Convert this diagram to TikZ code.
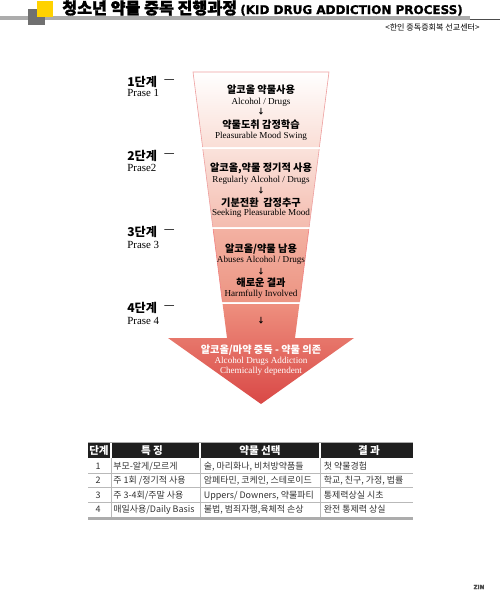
\documentclass[tikz,border=0pt]{standalone}
\usepackage{fontspec}
\setmainfont{Liberation Serif}
\newfontfamily\krfont{Noto Sans CJK KR}
\newfontfamily\krheavy{Noto Sans CJK KR}[BoldFeatures={FakeBold=1.6}]
\newfontfamily\headfont{DejaVu Sans}[BoldFeatures={FakeBold=1.2}]
\definecolor{TitleYellow}{RGB}{255,210,0}
\definecolor{TitleGray}{RGB}{112,112,112}
\definecolor{BarGray}{RGB}{172,172,172}
\definecolor{EdgePink}{RGB}{238,160,160}
\definecolor{FunA}{RGB}{250,222,214}
\definecolor{FunB}{RGB}{250,226,219}
\definecolor{FunC}{RGB}{244,188,175}
\definecolor{FunD}{RGB}{243,177,162}
\definecolor{FunE}{RGB}{236,148,130}
\definecolor{FunF}{RGB}{238,143,126}
\definecolor{FunG}{RGB}{217,72,70}
\definecolor{TableText}{RGB}{50,50,50}
\definecolor{RuleGray}{RGB}{185,185,185}
\usetikzlibrary{positioning}

\begin{document}
\begin{tikzpicture}[x=0.02cm,y=-0.02cm,
  krbold/.style={font=\krfont\bfseries\fontsize{5.8}{6}\selectfont,inner sep=0pt,anchor=base},
  engtxt/.style={font=\fontsize{5.2}{6}\selectfont,inner sep=0pt,anchor=base},
  downmark/.style={font=\krfont\bfseries\fontsize{4.2}{5}\selectfont,inner sep=0pt},
  stagekr/.style={font=\krfont\bfseries\fontsize{6.9}{7}\selectfont,inner sep=0pt,anchor=base west},
  stageen/.style={font=\fontsize{6.2}{7}\selectfont,inner sep=0pt,anchor=base west},
  dashmark/.style={font=\krfont\fontsize{6.9}{7}\selectfont,inner sep=0pt},
  headcell/.style={font=\krfont\bfseries\fontsize{6}{6}\selectfont,text=white,inner sep=0pt,anchor=base},
  bodycell/.style={font=\krfont\fontsize{5.1}{6}\selectfont,text=TableText,inner sep=0pt,anchor=base west}]
\useasboundingbox (0,0) rectangle (500,596);

% title bar
\fill[BarGray] (0,16.3) rectangle (470,20);
\draw[black!70,line width=0.4pt] (470,19.5) -- (500,19.5);
\fill[TitleGray] (28,9) rectangle (45,25);
\fill[TitleYellow] (37,1) rectangle (53,17);
\node[font=\krheavy\bfseries\fontsize{9.2}{10}\selectfont,inner sep=0pt,anchor=base west] (title) at (62,14) {청소년 약물 중독 진행과정};
\node[font=\headfont\bfseries\fontsize{6.8}{7}\selectfont,inner sep=0pt,anchor=base west] (titleen) at (240,14) {(KID DRUG ADDICTION PROCESS)};
\node[font=\krfont\fontsize{4.6}{5}\selectfont,inner sep=0pt,anchor=base east] (source) at (480,30.5) {<한인 중독증회복 선교센터>};

% funnel sections
\shade[top color=white,bottom color=FunA] (193,72) -- (329,72) -- (319.4,147) -- (202.6,147) -- cycle;
\shade[top color=FunB,bottom color=FunC] (202.8,149) -- (319.2,149) -- (309.2,227) -- (212.8,227) -- cycle;
\shade[top color=FunD,bottom color=FunE] (213.1,229) -- (308.9,229) -- (299.6,302) -- (222.4,302) -- cycle;
\shade[top color=FunF,bottom color=FunG] (222.6,304) -- (299.4,304) -- (295,338) -- (354,338) -- (261,404) -- (168,338) -- (227,338) -- cycle;
% pink edges
\draw[EdgePink,line width=0.35pt] (202.6,147) -- (193,72) -- (329,72) -- (319.4,147);
\draw[EdgePink,line width=0.35pt] (202.8,149) -- (212.8,227) (319.2,149) -- (309.2,227);
\draw[EdgePink!80!red,line width=0.35pt] (213.1,229) -- (222.4,302) (308.9,229) -- (299.6,302);

% stage 1
\node[krbold] (s1a) at (261,93) {알코올 약물사용};
\node[engtxt] (s1b) at (261,104.5) {Alcohol / Drugs};
\node[downmark] (s1c) at (261,111.5) {↓};
\node[krbold] (s1d) at (261,128) {약물도취 감정학습};
\node[engtxt] (s1e) at (261,138) {Pleasurable Mood Swing};
% stage 2
\node[krbold] (s2a) at (261,171) {알코올,약물 정기적 사용};
\node[engtxt] (s2b) at (261,182) {Regularly Alcohol / Drugs};
\node[downmark] (s2c) at (261,191) {↓};
\node[krbold] (s2d) at (261,206) {기분전환~~감정추구};
\node[engtxt] (s2e) at (261,215) {Seeking Pleasurable Mood};
% stage 3
\node[krbold] (s3a) at (261,252) {알코올/약물 남용};
\node[engtxt] (s3b) at (261,262.5) {Abuses Alcohol / Drugs};
\node[downmark] (s3c) at (261,271.5) {↓};
\node[krbold] (s3d) at (261,286) {해로운 결과};
\node[engtxt] (s3e) at (261,296) {Harmfully Involved};
% stage 4
\node[downmark] (s4c) at (261,320.5) {↓};
\node[krbold,text=white] (s4a) at (261,353) {알코올/마약 중독 - 약물 의존};
\node[engtxt,text=white] (s4b) at (261,363.5) {Alcohol Drugs Addiction};
\node[engtxt,text=white] (s4e) at (261,373) {Chemically dependent};

% stage labels
\node[stagekr] (stage1) at (127,86) {1단계};
\node[dashmark,right=3.5pt of stage1] (dash1) {—};
\node[stageen] (prase1) at (127,96) {Prase 1};
\node[stagekr] (stage2) at (127,160.5) {2단계};
\node[dashmark,right=3.5pt of stage2] (dash2) {—};
\node[stageen] (prase2) at (127,171) {Prase2};
\node[stagekr] (stage3) at (127,236.5) {3단계};
\node[dashmark,right=3.5pt of stage3] (dash3) {—};
\node[stageen] (prase3) at (127,248) {Prase 3};
\node[stagekr] (stage4) at (127,312.5) {4단계};
\node[dashmark,right=3.5pt of stage4] (dash4) {—};
\node[stageen] (prase4) at (127,324) {Prase 4};

% table
\draw[BarGray,line width=0.8pt] (88,442.3) -- (413,442.3);
\fill[black!88] (88,443.3) rectangle (413,458.3);
\foreach \x in {111,200,320}
  \draw[white,line width=0.6pt] (\x,443.3) -- (\x,458.3);
\foreach \y in {473.3,487.8,502.3}
  \draw[RuleGray,line width=0.4pt] (88,\y) -- (413,\y);
\foreach \x in {111,200,320}
  \draw[RuleGray,line width=0.4pt] (\x,458.3) -- (\x,516.7);
\fill[BarGray] (88,516.7) rectangle (413,520.3);

\node[headcell] (h1) at (99,454.3) {단계};
\node[headcell] (h2) at (152,454.3) {특 징};
\node[headcell] (h3) at (260,454.3) {약물 선택};
\node[headcell] (h4) at (369,454.3) {결 과};

\foreach \y/\num/\trait/\drug/\result in {
  469/1/{부모-알게/모르게}/{술, 마리화나, 비처방약품들}/{첫 약물경험},
  483.7/2/{주 1회 /정기적 사용}/{암페타민, 코케인, 스테로이드}/{학교, 친구, 가정, 법률},
  498.2/3/{주 3-4회/주말 사용}/{Uppers/ Downers, 약물파티}/{통제력상실 시초},
  512.7/4/{매일사용/Daily Basis}/{불법, 범죄자행,육체적 손상}/{완전 통제력 상실}}{
  \node[bodycell,anchor=base] (num\num) at (98,\y) {\num};
  \node[bodycell] (trait\num) at (113,\y) {\trait};
  \node[bodycell] (drug\num) at (203.5,\y) {\drug};
  \node[bodycell] (result\num) at (323.5,\y) {\result};
}

\node[font=\headfont\bfseries\fontsize{3.2}{4}\selectfont,text=black!70,inner sep=0pt] (zin) at (479,587) {ZIN};
\end{tikzpicture}
\end{document}
